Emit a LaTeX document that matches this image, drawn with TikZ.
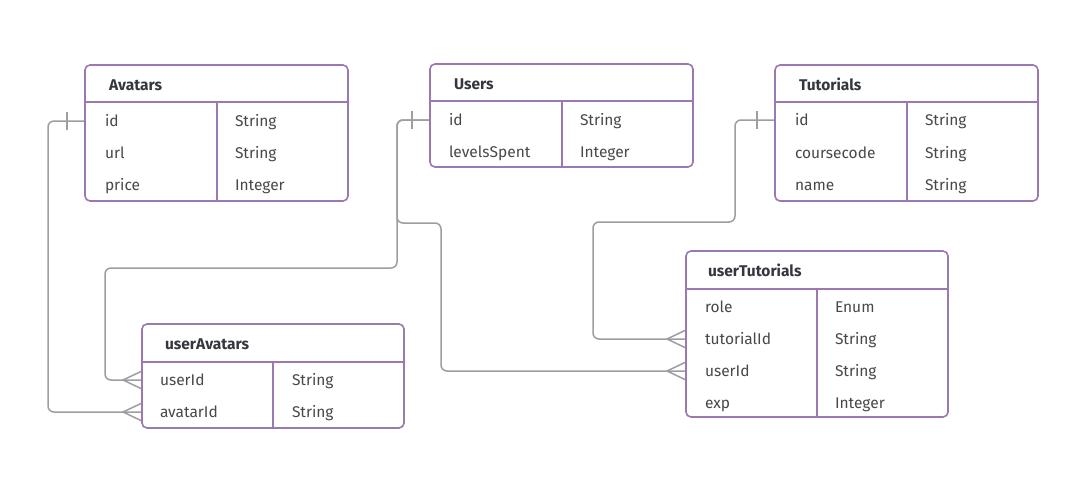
\documentclass[tikz,border=0pt]{standalone}
\usepackage{fontspec}
\setmainfont{Fira Sans}
\definecolor{tableline}{RGB}{155,120,178}
\definecolor{linkgray}{RGB}{158,158,158}
\definecolor{fieldtext}{RGB}{72,72,72}
\definecolor{titletext}{RGB}{52,56,62}
\tikzset{
  tablebox/.style={draw=tableline,line width=1.6pt,rounded corners=5pt,fill=white},
  tablerule/.style={draw=tableline,line width=1.6pt},
  tabletitle/.style={inner sep=0pt,outer sep=0pt,anchor=mid west,yshift=-3pt,text=titletext,font=\bfseries\fontsize{15.5}{18}\selectfont},
  fieldname/.style={inner sep=0pt,outer sep=0pt,anchor=mid west,yshift=-3pt,text=fieldtext,font=\fontsize{15.5}{18}\selectfont},
  link/.style={draw=linkgray,line width=1.5pt,rounded corners=6pt}
}
\newcommand{\onemark}[1]{\draw[link] ([shift={(-18,-9)}]#1) -- ([shift={(-18,9)}]#1);}
\newcommand{\manymark}[1]{\draw[link,rounded corners=0pt] ([shift={(0,-9)}]#1) -- ([shift={(-19,0)}]#1) -- ([shift={(0,9)}]#1);}
\begin{document}
\begin{tikzpicture}[x=1pt,y=-1pt]
\path[use as bounding box,fill=white] (0,0) rectangle (1076,487);
% connectors
\coordinate (avatars-id) at (85,121);
\coordinate (users-id) at (430,120);
\coordinate (tutorials-id) at (775,120);
\coordinate (uavatars-userid) at (142,380);
\coordinate (uavatars-avatarid) at (142,412);
\coordinate (utut-tutorialid) at (686,339);
\coordinate (utut-userid) at (686,371);
\draw[link] (avatars-id) -| (48,412) -- (uavatars-avatarid);
\draw[link] (users-id) -| (397,268) -| (105,380) -- (uavatars-userid);
\draw[link] (users-id) -| (397,223) -| (441,371) -- (utut-userid);
\draw[link] (tutorials-id) -| (735,222) -| (593,339) -- (utut-tutorialid);
\onemark{avatars-id}
\onemark{users-id}
\onemark{tutorials-id}
\manymark{uavatars-userid}
\manymark{uavatars-avatarid}
\manymark{utut-tutorialid}
\manymark{utut-userid}
% Avatars
\path[tablebox] (85,65) rectangle (348,201);
\draw[tablerule] (85,102) -- (348,102);
\draw[tablerule] (217,102) -- (217,201);
\node[tabletitle] (avatars) at (109,85) {Avatars};
\node[fieldname] (av-id) at (105,121) {id};
\node[fieldname] (av-id-t) at (235,121) {String};
\node[fieldname] (av-url) at (105,153) {url};
\node[fieldname] (av-url-t) at (235,153) {String};
\node[fieldname] (av-price) at (105,185) {price};
\node[fieldname] (av-price-t) at (235,185) {Integer};
% Users
\path[tablebox] (430,64) rectangle (693,167);
\draw[tablerule] (430,101) -- (693,101);
\draw[tablerule] (562,101) -- (562,167);
\node[tabletitle] (users) at (454,84) {Users};
\node[fieldname] (us-id) at (449,120) {id};
\node[fieldname] (us-id-t) at (580,120) {String};
\node[fieldname] (us-levels) at (449,152) {levelsSpent};
\node[fieldname] (us-levels-t) at (580,152) {Integer};
% Tutorials
\path[tablebox] (775,65) rectangle (1038,201);
\draw[tablerule] (775,102) -- (1038,102);
\draw[tablerule] (907,102) -- (907,201);
\node[tabletitle] (tutorials) at (799,85) {Tutorials};
\node[fieldname] (tu-id) at (795,120) {id};
\node[fieldname] (tu-id-t) at (925,120) {String};
\node[fieldname] (tu-code) at (795,153) {coursecode};
\node[fieldname] (tu-code-t) at (925,153) {String};
\node[fieldname] (tu-name) at (795,185) {name};
\node[fieldname] (tu-name-t) at (925,185) {String};
% userAvatars
\path[tablebox] (142,324) rectangle (404,428);
\draw[tablerule] (142,362) -- (404,362);
\draw[tablerule] (273,362) -- (273,428);
\node[tabletitle] (uavatars) at (165,344) {userAvatars};
\node[fieldname] (ua-user) at (160,380) {userId};
\node[fieldname] (ua-user-t) at (292,380) {String};
\node[fieldname] (ua-avatar) at (160,412) {avatarId};
\node[fieldname] (ua-avatar-t) at (292,412) {String};
% userTutorials
\path[tablebox] (686,251) rectangle (948,417);
\draw[tablerule] (686,289) -- (948,289);
\draw[tablerule] (817,289) -- (817,417);
\node[tabletitle] (utut) at (708,271) {userTutorials};
\node[fieldname] (ut-role) at (705,307) {role};
\node[fieldname] (ut-role-t) at (835,307) {Enum};
\node[fieldname] (ut-tut) at (705,339) {tutorialId};
\node[fieldname] (ut-tut-t) at (835,339) {String};
\node[fieldname] (ut-user) at (705,371) {userId};
\node[fieldname] (ut-user-t) at (835,371) {String};
\node[fieldname] (ut-exp) at (705,403) {exp};
\node[fieldname] (ut-exp-t) at (835,403) {Integer};
\end{tikzpicture}
\end{document}
